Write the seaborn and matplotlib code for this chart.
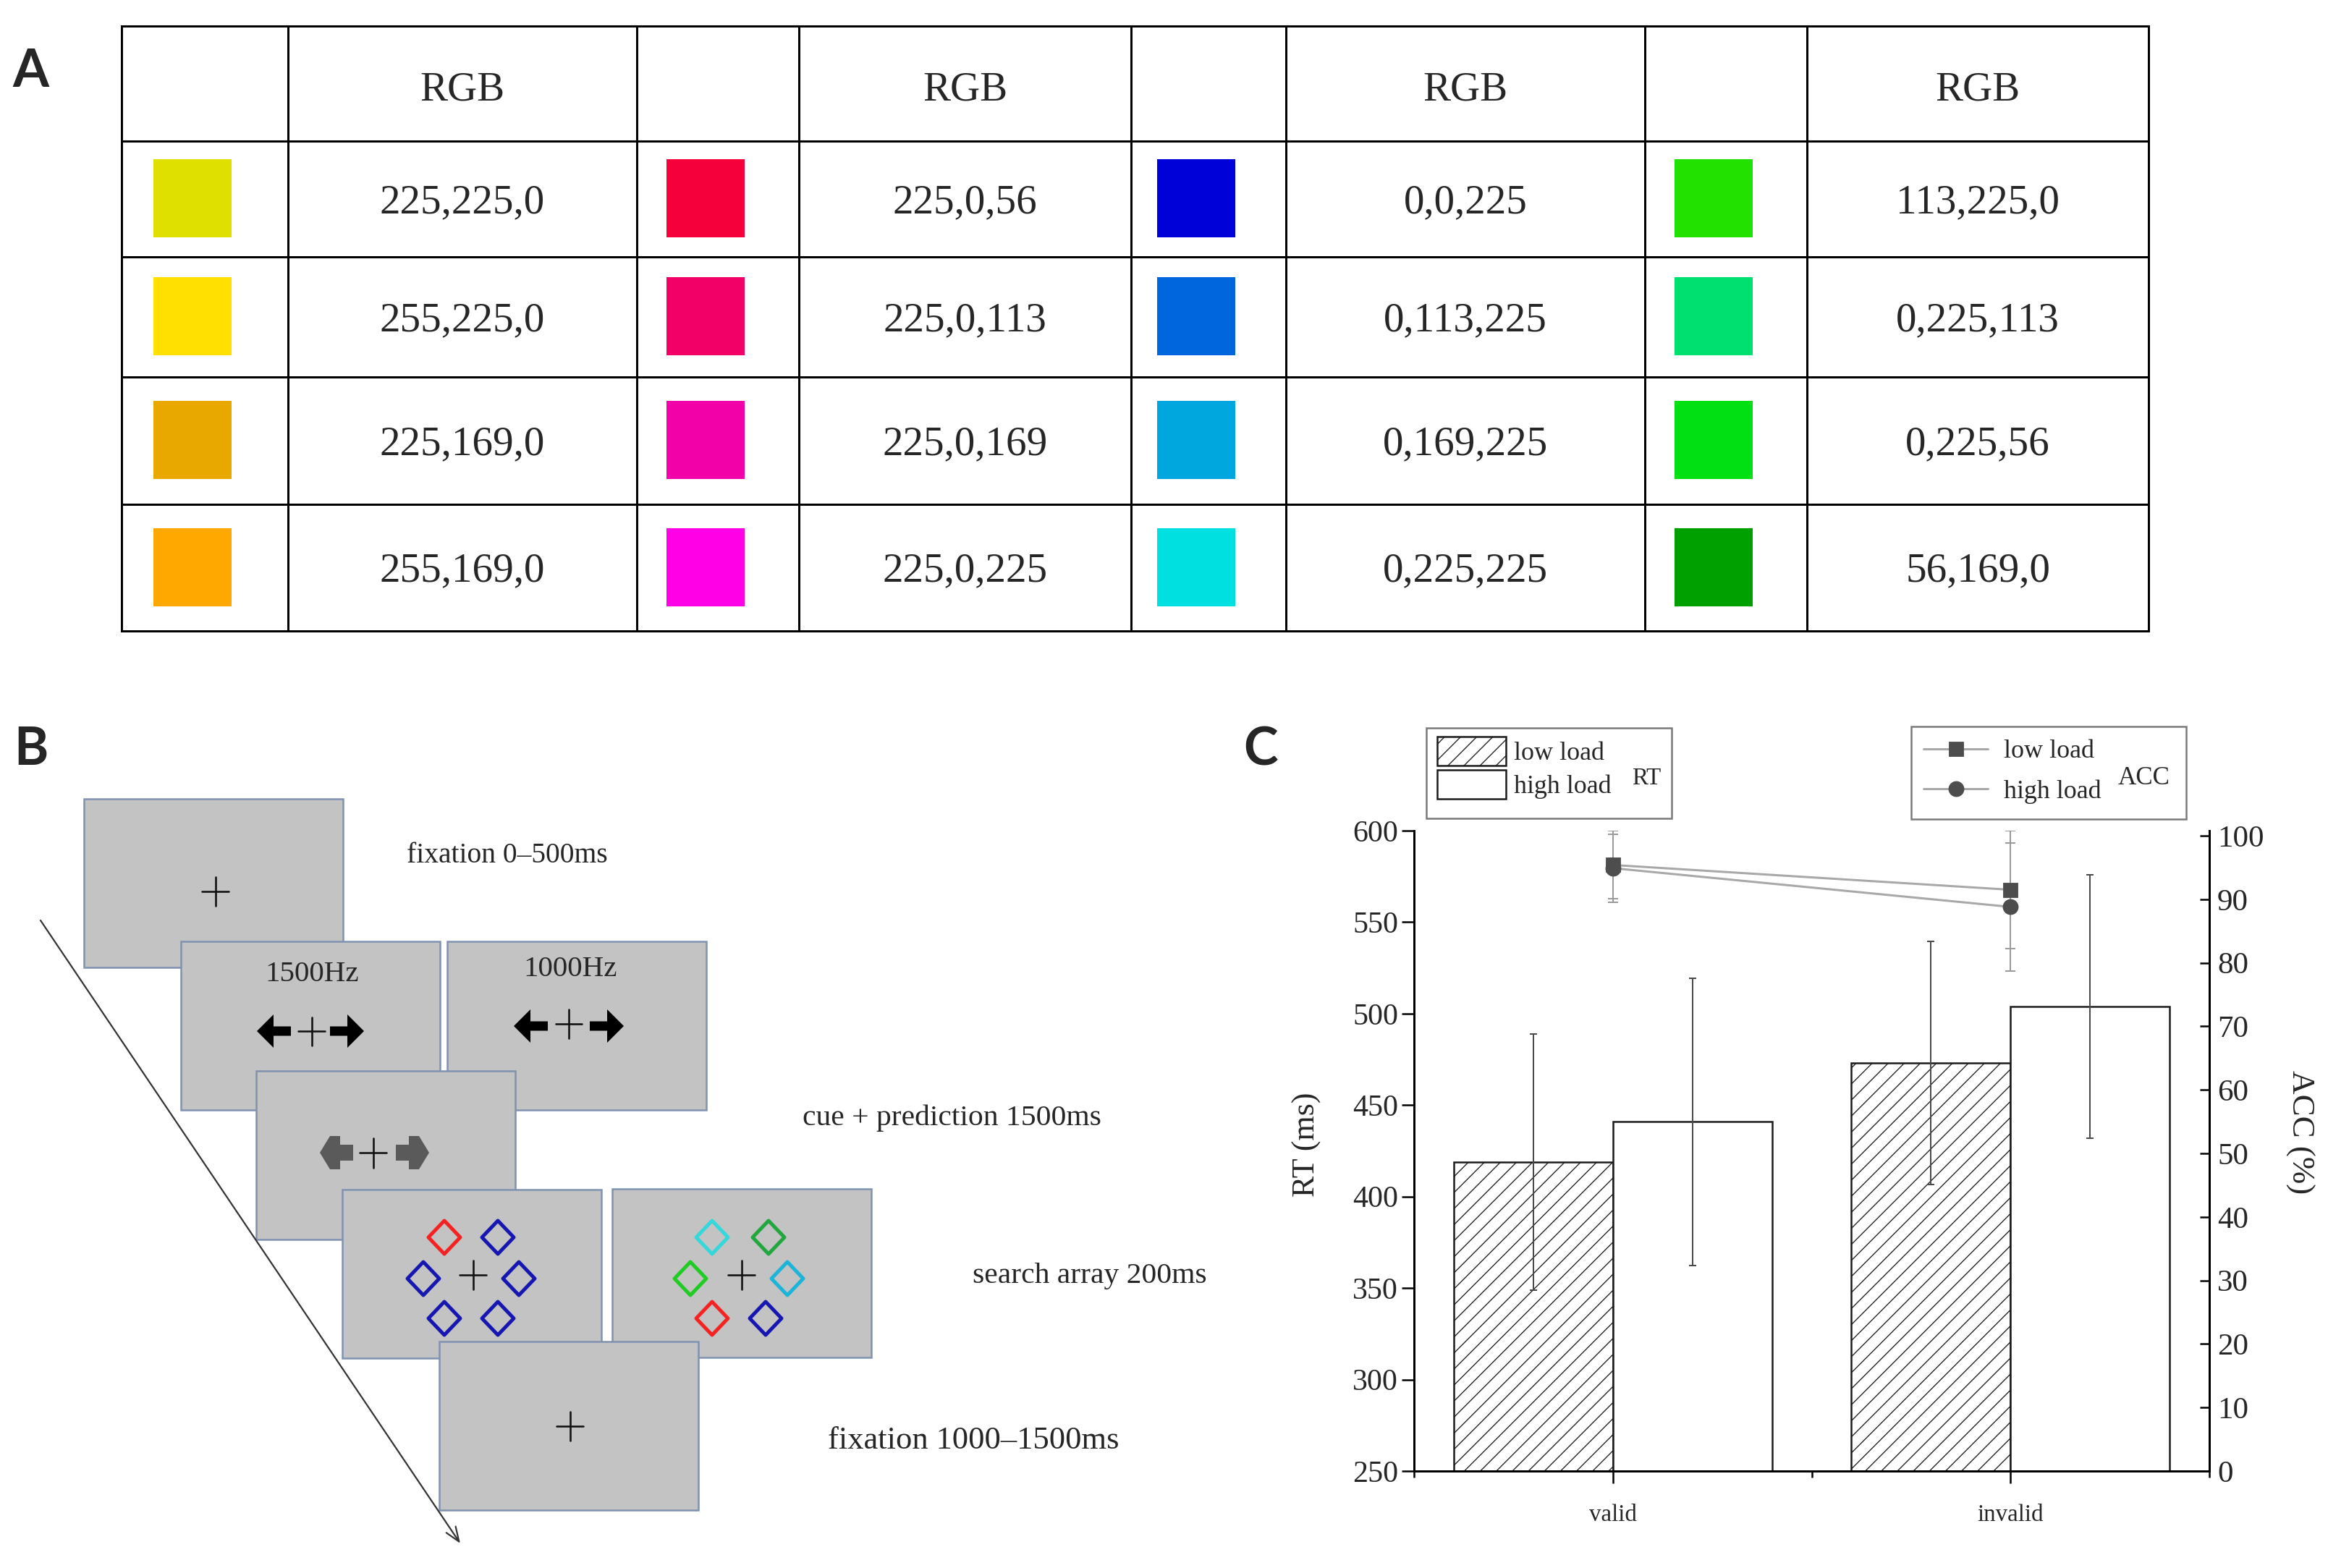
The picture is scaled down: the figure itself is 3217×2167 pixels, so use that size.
import pandas as pd
import seaborn as sns
import matplotlib.pyplot as plt
from matplotlib.patches import Rectangle, Polygon, Patch
from matplotlib.lines import Line2D

# output size in pixels, hatch unit = 1 inch so dpi sets hatch spacing
W, H = 3217, 2167
DPI = 133


def pt(px):
    # pixel size -> points
    return px * 72 / DPI


# ---- panel A data: colour set ----
rgb_labels = [
    ["225,225,0", "255,225,0", "225,169,0", "255,169,0"],
    ["225,0,56", "225,0,113", "225,0,169", "225,0,225"],
    ["0,0,225", "0,113,225", "0,169,225", "0,225,225"],
    ["113,225,0", "0,225,113", "0,225,56", "56,169,0"],
]
swatch_colors = [
    ["#E0E000", "#FFE000", "#E8A800", "#FFA800"],
    ["#F5003A", "#F20068", "#F200A8", "#FF00E6"],
    ["#0000D8", "#0066DD", "#00A6DE", "#00E0E0"],
    ["#22E000", "#00E070", "#00E012", "#00A000"],
]

# ---- panel C data: RT bars and ACC lines ----
cues = ["valid", "invalid"]
loads = ["low load", "high load"]
rt_low = [419, 473]
rt_high = [441, 504]
rt_low_err = [70, 66.5]
rt_high_err = [78.5, 72]
acc_low = [95.4, 91.5]
acc_high = [94.9, 88.8]
acc_low_err = [5.35, 9.3]
acc_high_err = [5.35, 10.1]

sns.set_theme(style="ticks")
plt.rcParams["font.family"] = ["Liberation Serif", "DejaVu Serif"]
plt.rcParams["hatch.linewidth"] = pt(1.3)
plt.rcParams["axes.edgecolor"] = "black"

fig = plt.figure(figsize=(W / DPI, H / DPI), dpi=DPI)
fig.patch.set_facecolor("white")

# full-figure canvas in pixel coordinates for the table and the trial scheme
canvas = fig.add_axes([0, 0, 1, 1])
canvas.set_xlim(0, W)
canvas.set_ylim(H, 0)
canvas.axis("off")

label_kw = dict(family="Lato", fontweight="bold", fontsize=pt(72), ha="left", va="top")
canvas.text(17, 66, "A", **label_kw)
canvas.text(19, 1003, "B", **label_kw)
canvas.text(1718, 1003, "C", **label_kw)

# ---- panel A: table ----
col_edges = [168, 398, 880, 1104, 1563, 1777, 2273, 2497, 2969]
row_edges = [36, 195, 355, 521, 697, 872]
grid_kw = dict(color="black", lw=pt(3), solid_capstyle="projecting")
for x in col_edges:
    canvas.plot([x, x], [row_edges[0], row_edges[-1]], **grid_kw)
for y in row_edges:
    canvas.plot([col_edges[0], col_edges[-1]], [y, y], **grid_kw)

table_font = pt(57)
for g in range(4):
    sx = (col_edges[2 * g] + col_edges[2 * g + 1]) / 2 - 17
    tx = (col_edges[2 * g + 1] + col_edges[2 * g + 2]) / 2
    canvas.text(tx, (row_edges[0] + row_edges[1]) / 2 + 3, "RGB", fontsize=table_font,
                ha="center", va="center_baseline")
    for r in range(4):
        cy = (row_edges[r + 1] + row_edges[r + 2]) / 2 - 1
        canvas.add_patch(Rectangle((sx - 54, cy - 54), 108, 108,
                                   facecolor=swatch_colors[g][r], edgecolor="none"))
        canvas.text(tx, cy, rgb_labels[g][r], fontsize=table_font,
                    ha="center", va="center_baseline")

# ---- panel B: trial sequence ----
screens = [(116, 1104), (250, 1301), (618, 1301), (354, 1480),
           (473, 1644), (846, 1643), (607, 1854)]
for x0, y0 in screens:
    canvas.add_patch(Rectangle((x0, y0), 358, 233, facecolor="#C3C3C3",
                               edgecolor="#7F92B0", lw=pt(2.5)))


def plus(cx, cy, w=37, h=40):
    canvas.plot([cx - w / 2, cx + w / 2], [cy, cy], color="#111111", lw=pt(2.6))
    canvas.plot([cx, cx], [cy - h / 2, cy + h / 2], color="#111111", lw=pt(2.6))


def block_arrow(tip, cy, d, shape, color):
    # d = -1 points left, +1 points right
    pts = [(tip - d * dx, cy + dy) for dx, dy in shape]
    canvas.add_patch(Polygon(pts, closed=True, facecolor=color, edgecolor="none"))


black_shape = [(0, 0), (23, -23), (23, -6.5), (47, -6.5), (47, 6.5), (23, 6.5), (23, 23)]
grey_shape = [(0, 0), (14, -23), (28, -23), (28, -11), (46, -11), (46, 11),
              (28, 11), (28, 23), (14, 23)]

plus(298, 1232)
hz_font = pt(41)
canvas.text(431, 1342, "1500Hz", fontsize=hz_font, ha="center", va="center_baseline")
canvas.text(788, 1335, "1000Hz", fontsize=hz_font, ha="center", va="center_baseline")
block_arrow(355, 1425, -1, black_shape, "black")
block_arrow(503, 1425, 1, black_shape, "black")
plus(431, 1425, 37, 39)
block_arrow(710, 1418, -1, black_shape, "black")
block_arrow(862, 1418, 1, black_shape, "black")
plus(786, 1415, 36, 40)
block_arrow(442, 1593, -1, grey_shape, "#5A5A5A")
block_arrow(593, 1593, 1, grey_shape, "#5A5A5A")
plus(516, 1593, 37, 41)

red, blue = "#F52222", "#1616B0"
diamonds = [
    (614, 1710, red), (688, 1710, blue), (585, 1767, blue), (717, 1767, blue),
    (614, 1822, blue), (688, 1822, blue),
    (984, 1710, "#35D8DA"), (1062, 1710, "#22A63E"), (954, 1767, "#20CC22"),
    (1088, 1767, "#1DB4DA"), (984, 1822, red), (1058, 1822, blue),
]
for cx, cy, c in diamonds:
    canvas.add_patch(Polygon([(cx, cy - 23), (cx + 22, cy), (cx, cy + 23), (cx - 22, cy)],
                             closed=True, fill=False, edgecolor=c, lw=pt(5), joinstyle="round"))
plus(654, 1762)
plus(1025, 1762)
plus(788, 1971)

canvas.annotate("", xy=(636, 2133), xytext=(56, 1272),
                arrowprops=dict(arrowstyle="->,head_length=0.9,head_width=0.35",
                                lw=pt(2.2), color="#333333", shrinkA=0, shrinkB=0))

canvas.text(701, 1178, "fixation 0\u2013500ms", fontsize=pt(39.5), ha="center", va="center_baseline")
canvas.text(1315, 1541, "cue + prediction 1500ms", fontsize=pt(41.5), ha="center", va="center_baseline")
canvas.text(1506, 1759, "search array 200ms", fontsize=pt(41.5), ha="center", va="center_baseline")
canvas.text(1345, 1987, "fixation 1000\u20131500ms", fontsize=pt(44.5), ha="center", va="center_baseline")

# ---- panel C: RT bars + ACC ----
ax = fig.add_axes([1954 / W, (H - 2033) / H, 1099 / W, 885 / H])
ax.set_facecolor("none")
df = pd.DataFrame({
    "cue": cues * 2,
    "load": [loads[0]] * 2 + [loads[1]] * 2,
    "rt": rt_low + rt_high,
})
sns.barplot(data=df, x="cue", y="rt", hue="load", order=cues, hue_order=loads,
            palette={loads[0]: "white", loads[1]: "white"}, edgecolor="#1a1a1a",
            linewidth=pt(2.5), width=0.8, errorbar=None, legend=False, ax=ax)
for bar in ax.containers[0]:
    bar.set_hatch("//")

for cont, vals, errs in zip(ax.containers, [rt_low, rt_high], [rt_low_err, rt_high_err]):
    xs = [p.get_x() + p.get_width() / 2 for p in cont]
    ax.errorbar(xs, vals, yerr=errs, fmt="none", ecolor="#4a4a4a",
                elinewidth=pt(2), capsize=pt(5), capthick=pt(2))

ax.set_xlim(-0.5, 1.5)
ax.set_ylim(250, 600)
ax.set_yticks(range(250, 601, 50))
ax.set_xticks([0, 1])
ax.set_xticklabels(cues)
ax.set_xticks([-0.5, 0.5, 1.5], minor=True)
ax.set_xlabel("")
ax.tick_params(axis="x", which="major", direction="out", length=pt(17), width=pt(2.5),
               pad=pt(28), labelsize=pt(33), color="black")
ax.tick_params(axis="x", which="minor", direction="out", length=pt(9), width=pt(2.5),
               color="black")
ax.tick_params(axis="y", direction="out", length=pt(17), width=pt(2.5), pad=pt(5),
               labelsize=pt(42), color="black")
for s in ["left", "bottom"]:
    ax.spines[s].set_linewidth(pt(3))
ax.spines["top"].set_visible(False)
ax.spines["right"].set_visible(False)
ax.set_ylabel("RT (ms)", fontsize=pt(44))
ax.yaxis.set_label_coords(-0.1347, 0.51)
ax.yaxis.label.set_va("center")

ax2 = ax.twinx()
ax2.set_ylim(0, 100.8)
ax2.set_yticks(range(0, 101, 10))
ax2.tick_params(axis="y", direction="in", length=pt(13), width=pt(2.5), pad=pt(11),
                labelsize=pt(43), color="black")
for s in ["top", "left", "bottom"]:
    ax2.spines[s].set_visible(False)
ax2.spines["right"].set_linewidth(pt(3))
ax2.set_ylabel("ACC (%)", fontsize=pt(45), rotation=270)
ax2.yaxis.set_label_coords(1.1137, 0.529)
ax2.yaxis.label.set_va("center")
ax2.yaxis.label.set_ha("center")

xpos = [0, 1]
line_grey, mark_grey = "#A8A8A8", "#4D4D4D"
for vals, errs, mk, ms in [(acc_low, acc_low_err, "s", 19), (acc_high, acc_high_err, "o", 20)]:
    ax2.errorbar(xpos, vals, yerr=errs, fmt="none", ecolor="#9A9A9A",
                 elinewidth=pt(2), capsize=pt(7), capthick=pt(2), zorder=2)
    ax2.plot(xpos, vals, color=line_grey, lw=pt(3), zorder=3)
    ax2.plot(xpos, vals, ls="none", marker=mk, ms=pt(ms), mfc=mark_grey, mec=mark_grey, zorder=4)

# legends with hand-drawn frames
leg_font = {"family": "Liberation Serif", "size": pt(36)}
rt_handles = [Patch(facecolor="white", edgecolor="#1a1a1a", hatch="//", lw=pt(2.5)),
              Patch(facecolor="white", edgecolor="#1a1a1a", lw=pt(2.5))]
leg1 = ax.legend(rt_handles, loads, loc="upper left", bbox_to_anchor=(1986 / W, 1 - 1018 / H),
                 bbox_transform=fig.transFigure, frameon=False, borderpad=0, borderaxespad=0,
                 handlelength=95 / 36, handleheight=48 / 36, handletextpad=11 / 36,
                 labelspacing=6 / 36, prop=leg_font)
acc_handles = [Line2D([], [], color=line_grey, lw=pt(3), marker="s", ms=pt(19),
                      mfc=mark_grey, mec=mark_grey),
               Line2D([], [], color=line_grey, lw=pt(3), marker="o", ms=pt(20),
                      mfc=mark_grey, mec=mark_grey)]
leg2 = ax2.legend(acc_handles, loads, loc="upper left", bbox_to_anchor=(2658 / W, 1 - 1022 / H),
                  bbox_transform=fig.transFigure, frameon=False, borderpad=0, borderaxespad=0,
                  handlelength=89 / 36, handletextpad=22 / 36, labelspacing=22 / 36,
                  prop=leg_font)

canvas.add_patch(Rectangle((1971, 1006), 339, 125, fill=False, edgecolor="#7A7A7A", lw=pt(2.5)))
canvas.add_patch(Rectangle((2641, 1004), 380, 128, fill=False, edgecolor="#7A7A7A", lw=pt(2.5)))
canvas.text(2275, 1072, "RT", fontsize=pt(33), ha="center", va="center_baseline")
canvas.text(2963, 1072, "ACC", fontsize=pt(35), ha="center", va="center_baseline")

fig.savefig("out.png", dpi=DPI, facecolor="white")
